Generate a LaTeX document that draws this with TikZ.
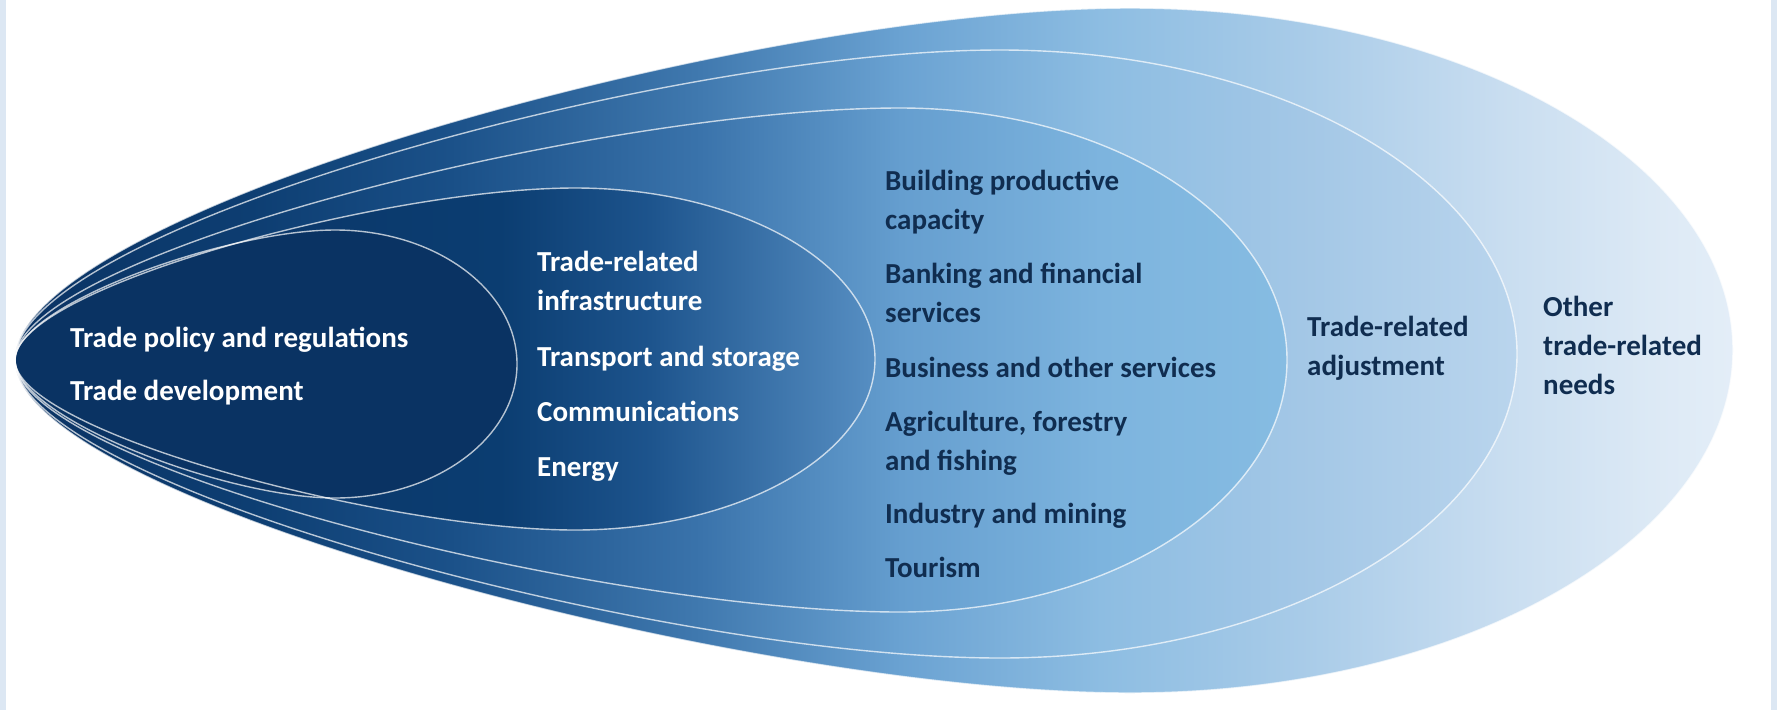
\documentclass[tikz,border=0pt]{standalone}
\usepackage{fontspec}
\setmainfont{Carlito}
\definecolor{strip}{HTML}{DCE7F3}
\definecolor{navy}{HTML}{0A3363}
\definecolor{txtdark}{HTML}{102D50}
\definecolor{g0}{HTML}{0A3263}
\definecolor{g250}{HTML}{0D3E72}
\definecolor{g450}{HTML}{1B5189}
\definecolor{g700}{HTML}{4079AF}
\definecolor{g900}{HTML}{6AA2D2}
\definecolor{g1100}{HTML}{8DBDE2}
\definecolor{g1300}{HTML}{A8CBE8}
\definecolor{g1500}{HTML}{C8DDF0}
\definecolor{g1650}{HTML}{DCE9F5}
\definecolor{g1733}{HTML}{E4EEF8}
\definecolor{f1300}{HTML}{A3C7E6}
\definecolor{f1517}{HTML}{BAD5ED}
\definecolor{h250}{HTML}{0D3D71}
\definecolor{h450}{HTML}{194F87}
\definecolor{h700}{HTML}{3A73AB}
\definecolor{h900}{HTML}{659ECF}
\definecolor{h1100}{HTML}{7DB4DE}
\definecolor{h1287}{HTML}{86BCE2}
\definecolor{k500}{HTML}{0B3D71}
\definecolor{k650}{HTML}{1D548D}
\definecolor{k875}{HTML}{5890C4}
% egg path: #1 xc, #2 top y, #3 bottom y, #4 right x, #5 right y
\newcommand\eggpath[5]{(15,360) .. controls (15,{360-0.42*(360-#2)}) and ({#1-0.34*(#1-15)},#2) .. (#1,#2)
 .. controls ({#1+0.5523*(#4-#1)},#2) and (#4,{#5-0.5523*(#5-#2)}) .. (#4,#5)
 .. controls (#4,{#5+0.5523*(#3-#5)}) and ({#1+0.5523*(#4-#1)},#3) .. (#1,#3)
 .. controls ({#1-0.34*(#1-15)},#3) and (15,{360+0.42*(#3-360)}) .. (15,360) -- cycle}
\newcommand\gradfill[1]{\foreach \xa/\ca/\xb/\cb in {#1}{\shade[left color=\ca,right color=\cb] (\xa,-5) rectangle ({\xb+1},715);}}
\tikzset{
  rim/.style={draw=white,draw opacity=0.7,line width=1.4pt},
  wt/.style={text=white,font=\bfseries\fontsize{29}{39}\selectfont,anchor=base west,inner sep=0pt},
  dk/.style={text=txtdark,font=\bfseries\fontsize{29}{39}\selectfont,anchor=base west,inner sep=0pt}
}
\begin{document}
\begin{tikzpicture}[x=1pt,y=-1pt]
\useasboundingbox (0,0) rectangle (1777,710);
\fill[white] (0,0) rectangle (1777,710);
\fill[strip] (0,0) rectangle (6,710);
\fill[strip] (1771,0) rectangle (1777,710);
% S5 outer
\begin{scope}
\clip \eggpath{1130}{8}{693}{1733}{350};
\gradfill{0/g0/250/g250, 250/g250/450/g450, 450/g450/700/g700, 700/g700/900/g900, 900/g900/1100/g1100, 1100/g1100/1300/g1300, 1300/g1300/1500/g1500, 1500/g1500/1650/g1650, 1650/g1650/1740/g1733}
\end{scope}
% S4
\begin{scope}
\clip \eggpath{1000}{50}{658}{1517}{354};
\gradfill{0/g0/250/g250, 250/g250/450/g450, 450/g450/700/g700, 700/g700/900/g900, 900/g900/1100/g1100, 1100/g1100/1300/f1300, 1300/f1300/1520/f1517}
\end{scope}
% S3
\begin{scope}
\clip \eggpath{900}{108}{612}{1287}{360};
\gradfill{0/g0/250/h250, 250/h250/450/h450, 450/h450/700/h700, 700/h700/900/h900, 900/h900/1100/h1100, 1100/h1100/1290/h1287}
\end{scope}
% S2
\begin{scope}
\clip \eggpath{575}{188}{530}{875}{359};
\gradfill{0/g0/500/k500, 500/k500/650/k650, 650/k650/880/k875}
\end{scope}
% S1
\fill[navy] \eggpath{335}{230}{498}{517}{364};
% outlines
\path[rim] \eggpath{1130}{8}{693}{1733}{350};
\path[rim] \eggpath{1000}{50}{658}{1517}{354};
\path[rim] \eggpath{900}{108}{612}{1287}{360};
\path[rim] \eggpath{575}{188}{530}{875}{359};
\path[rim] \eggpath{335}{230}{498}{517}{364};
% S1 text
\node[wt] (a1) at (70,347) {Trade policy and regulations};
\node[wt] (a2) at (70,400) {Trade development};
% S2 text
\node[wt] (b1) at (537,271) {Trade-related};
\node[wt] (b1b) at (537,310) {infrastructure};
\node[wt] (b2) at (537,366) {Transport and storage};
\node[wt] (b3) at (537,421) {Communications};
\node[wt] (b4) at (537,476) {Energy};
% S3 text
\node[dk] (c1) at (885,190) {Building productive};
\node[dk] (c1b) at (885,229) {capacity};
\node[dk] (c2) at (885,283) {Banking and financial};
\node[dk] (c2b) at (885,322) {services};
\node[dk] (c3) at (885,377) {Business and other services};
\node[dk] (c4) at (885,431) {Agriculture, forestry};
\node[dk] (c4b) at (885,470) {and fishing};
\node[dk] (c5) at (885,523) {Industry and mining};
\node[dk] (c6) at (885,577) {Tourism};
% S4 text
\node[dk] (d1) at (1307,336) {Trade-related};
\node[dk] (d1b) at (1307,375) {adjustment};
% S5 text
\node[dk] (e1) at (1543,316) {Other};
\node[dk] (e1b) at (1543,355) {trade-related};
\node[dk] (e1c) at (1543,394) {needs};
\end{tikzpicture}
\end{document}
